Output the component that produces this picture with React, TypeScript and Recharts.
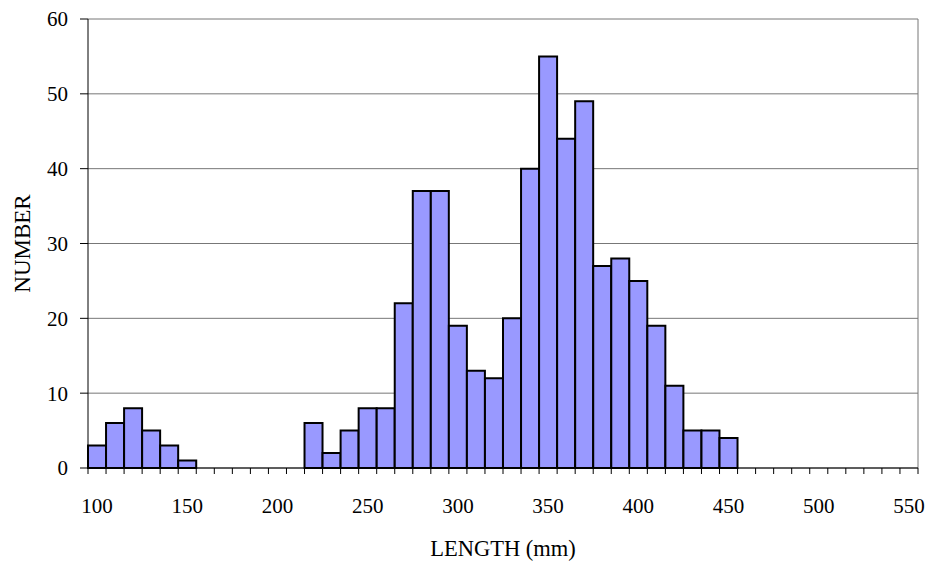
import React from 'react';
import { BarChart, Bar, XAxis, YAxis, CartesianGrid } from 'recharts';

// length classes (mm), 10 mm bins
const lengths = [
  100, 110, 120, 130, 140, 150, 160, 170, 180, 190,
  200, 210, 220, 230, 240, 250, 260, 270, 280, 290,
  300, 310, 320, 330, 340, 350, 360, 370, 380, 390,
  400, 410, 420, 430, 440, 450, 460, 470, 480, 490,
  500, 510, 520, 530, 540, 550,
];

const counts = [
  3, 6, 8, 5, 3, 1, 0, 0, 0, 0,
  0, 0, 6, 2, 5, 8, 8, 22, 37, 37,
  19, 13, 12, 20, 40, 55, 44, 49, 27, 28,
  25, 19, 11, 5, 5, 4, 0, 0, 0, 0,
  0, 0, 0, 0, 0, 0,
];

const yTicks = [0, 10, 20, 30, 40, 50, 60];

const data = lengths.map((len, i) => ({ len, count: counts[i] }));

const FONT = '"Liberation Serif", "Times New Roman", serif';
const CHART_W = 930;
const CHART_H = 561;
const MARGIN = { top: 19, right: 12, left: 0, bottom: 0 };
const Y_AXIS_W = 88;
const PLOT_W = CHART_W - MARGIN.left - MARGIN.right - Y_AXIS_W;

const XTick = (props: any) => {
  const { x, y, payload, index } = props;
  const half = PLOT_W / lengths.length / 2;
  const last = index === lengths.length - 1;
  return (
    <g>
      <line x1={x - half} x2={x - half} y1={y} y2={y + 6} stroke="#000" />
      {last && <line x1={x + half} x2={x + half} y1={y} y2={y + 6} stroke="#000" />}
      {index % 5 === 0 && (
        <text x={x} y={y + 45} textAnchor="middle" fill="#000" fontSize={21} fontFamily={FONT}>
          {payload.value}
        </text>
      )}
    </g>
  );
};

const App: React.FC = () => {
  return (
    <div style={{ position: 'absolute', left: 0, top: 0, background: '#fff' }}>
      <BarChart width={CHART_W} height={CHART_H} data={data} margin={MARGIN} barCategoryGap={0}>
        <CartesianGrid
          horizontal
          vertical
          stroke="#777"
          verticalCoordinatesGenerator={({ offset }: any) => [offset.left + offset.width]}
        />
        <XAxis
          dataKey="len"
          interval={0}
          height={CHART_H - 468}
          tickSize={0}
          tickMargin={0}
          tickLine={false}
          axisLine={{ stroke: '#000' }}
          tick={<XTick />}
          label={{
            value: 'LENGTH (mm)',
            position: 'insideBottom',
            offset: 5,
            fill: '#000',
            fontSize: 22.5,
            fontFamily: FONT,
          }}
        />
        <YAxis
          width={Y_AXIS_W}
          domain={[0, 60]}
          ticks={yTicks}
          interval={0}
          tickSize={8}
          tickMargin={12}
          axisLine={{ stroke: '#000' }}
          tickLine={{ stroke: '#000' }}
          tick={{ fill: '#000', fontSize: 21, fontFamily: FONT }}
          label={{
            value: 'NUMBER',
            angle: -90,
            position: 'center',
            dx: -22,
            fill: '#000',
            fontSize: 23,
            fontFamily: FONT,
          }}
        />
        <Bar dataKey="count" fill="#9999FF" stroke="#000" strokeWidth={2} isAnimationActive={false} />
      </BarChart>
    </div>
  );
};

export default App;
